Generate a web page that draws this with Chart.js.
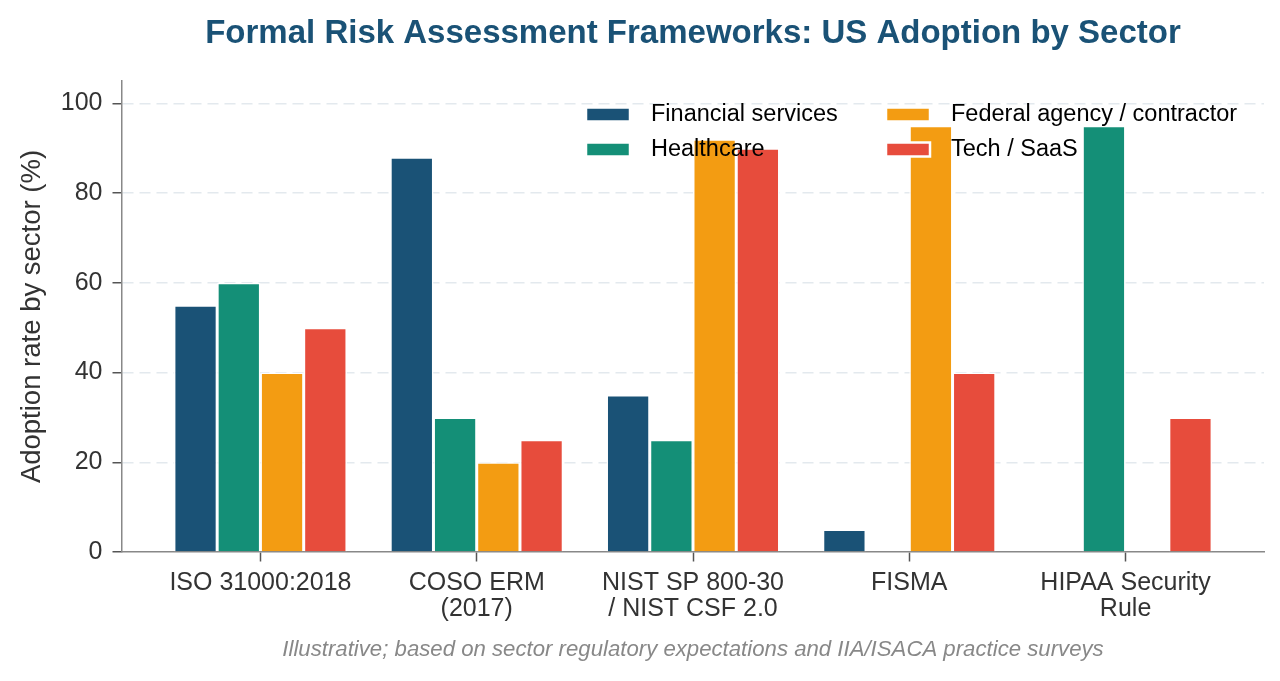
<!DOCTYPE html>
<html>
<head>
<meta charset="utf-8">
<script src="https://cdn.jsdelivr.net/npm/chart.js@4.4.1/dist/chart.umd.min.js"></script>
<style>
  html, body { margin: 0; padding: 0; background: #fff; }
  canvas { display: block; }
</style>
</head>
<body>
<canvas id="chart" width="1280" height="681"></canvas>
<script>
// Frameworks along the x axis (multi-line labels)
const frameworks = [
  ['ISO 31000:2018'],
  ['COSO ERM', '(2017)'],
  ['NIST SP 800-30', '/ NIST CSF 2.0'],
  ['FISMA'],
  ['HIPAA Security', 'Rule']
];
const sectors = ['Financial services', 'Healthcare', 'Federal agency / contractor', 'Tech / SaaS'];

// Adoption rate (%) per sector, one value per framework
const financial = [55, 88, 35, 5, 0];
const healthcare = [60, 30, 25, 0, 95];
const federal = [40, 20, 92, 95, 0];
const tech = [50, 25, 90, 40, 30];

const yTicks = [0, 20, 40, 60, 80, 100];
const colors = ['#1a5276', '#148f77', '#f39c12', '#e74c3c'];

const titleText = 'Formal Risk Assessment Frameworks: US Adoption by Sector';
const captionText = 'Illustrative; based on sector regulatory expectations and IIA/ISACA practice surveys';

const FONT = '"Liberation Sans", Arial, Helvetica, sans-serif';

const series = [financial, healthcare, federal, tech];
const datasets = series.map((vals, i) => ({
  label: sectors[i],
  data: vals.map((v, k) => ({ x: k, y: v })),
  backgroundColor: colors[i],
  borderColor: '#ffffff',
  borderWidth: 1.5,
  categoryPercentage: 0.8,
  barPercentage: 1.0
}));

// title, caption and the in-plot legend, centred on the plot area
const plotText = {
  id: 'plotText',
  afterDraw(chart) {
    const { ctx, chartArea } = chart;
    const cx = (chartArea.left + chartArea.right) / 2;
    ctx.save();
    ctx.textAlign = 'center';
    ctx.textBaseline = 'middle';
    ctx.fillStyle = '#1a5276';
    ctx.font = 'bold 33px ' + FONT;
    ctx.fillText(titleText, cx, 34);
    ctx.fillStyle = '#888888';
    ctx.font = 'italic 22.2px ' + FONT;
    ctx.fillText(captionText, cx, 650);

    // legend, 2 columns, filled column by column
    ctx.textAlign = 'left';
    ctx.font = '23.5px ' + FONT;
    chart.data.datasets.forEach((ds, i) => {
      const col = Math.floor(i / 2), row = i % 2;
      const x = chartArea.right - 678 + col * 300;
      const y = chartArea.top + 33.5 + row * 35;
      ctx.fillStyle = ds.backgroundColor;
      ctx.fillRect(x, y - 7, 44, 14);
      ctx.strokeStyle = '#ffffff';
      ctx.lineWidth = 2.5;
      ctx.strokeRect(x, y - 7, 44, 14);
      ctx.fillStyle = '#000000';
      ctx.fillText(ds.label, x + 65, y);
    });
    ctx.restore();
  }
};

new Chart(document.getElementById('chart'), {
  type: 'bar',
  data: { datasets },
  options: {
    responsive: false,
    animation: false,
    devicePixelRatio: 1,
    layout: { padding: { left: 10, right: 16, top: 81, bottom: 49 } },
    plugins: {
      legend: { display: false },
      tooltip: { enabled: false },
      title: { display: false }
    },
    scales: {
      x: {
        type: 'linear',
        bounds: 'data',
        offset: false,
        min: -0.64,
        max: 4.64,
        z: 1,
        afterBuildTicks: s => { s.ticks = frameworks.map((_, i) => ({ value: i })); },
        afterFit: s => { s.height = 80; },
        ticks: {
          callback: v => frameworks[v],
          color: '#333333',
          font: { family: FONT, size: 25, lineHeight: 1.06 },
          padding: 8,
          maxRotation: 0,
          autoSkip: false
        },
        grid: {
          offset: false,
          drawOnChartArea: false,
          drawTicks: true,
          tickLength: 9.5,
          tickColor: '#555555',
          tickWidth: 1.5
        },
        border: { display: true, color: '#888888', width: 1.5 }
      },
      y: {
        bounds: 'data',
        min: 0,
        max: 105,
        z: 1,
        afterBuildTicks: s => { s.ticks = yTicks.map(v => ({ value: v })); },
        afterFit: s => { s.width = 112; },
        ticks: {
          color: '#333333',
          font: { family: FONT, size: 25 },
          padding: 10
        },
        grid: {
          color: c => (c.tick && c.tick.value === 0) ? 'rgba(0,0,0,0)' : 'rgba(222,229,235,0.85)',
          lineWidth: 1.5,
          drawTicks: true,
          tickLength: 9.5,
          tickColor: '#555555',
          tickWidth: 1.5
        },
        border: { display: true, color: '#888888', width: 1.5, dash: [11, 6] },
        title: {
          display: true,
          text: 'Adoption rate by sector (%)',
          color: '#333333',
          font: { family: FONT, size: 27.5 },
          padding: { top: 6, bottom: 0 }
        }
      }
    }
  },
  plugins: [plotText]
});
</script>
</body>
</html>
